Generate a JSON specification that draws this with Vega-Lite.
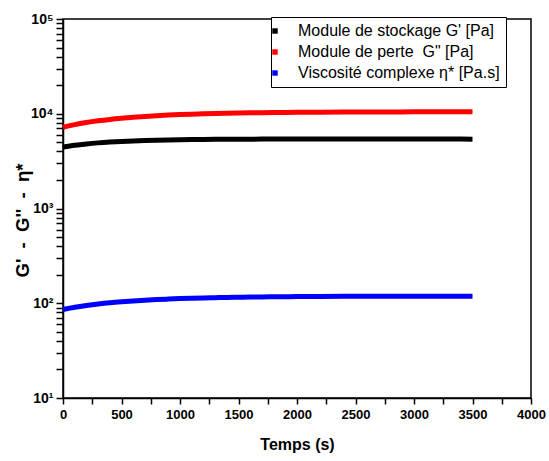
{
  "$schema": "https://vega.github.io/schema/vega-lite/v6.json",
  "autosize": {"type": "none"},
  "width": 468,
  "height": 379,
  "padding": {"left": 63, "top": 19, "right": 18, "bottom": 63},
  "background": "white",
  "config": {
    "view": {"stroke": "black", "strokeWidth": 1.5},
    "font": "Liberation Sans",
    "axis": {"grid": false, "domainColor": "black", "domainWidth": 1.5, "tickColor": "black", "tickWidth": 1.5, "labelColor": "black", "titleColor": "black", "labelFont": "Liberation Sans", "titleFont": "Liberation Sans", "labelFontWeight": "bold", "titleFontWeight": "bold"}
  },
  "data": {"values": [
    {"t": 0, "s": "G1", "v": 4460}, {"t": 100, "s": "G1", "v": 4651}, {"t": 200, "s": "G1", "v": 4804}, {"t": 300, "s": "G1", "v": 4927}, {"t": 400, "s": "G1", "v": 5025}, {"t": 500, "s": "G1", "v": 5104}, {"t": 600, "s": "G1", "v": 5167}, {"t": 700, "s": "G1", "v": 5217}, {"t": 800, "s": "G1", "v": 5258}, {"t": 900, "s": "G1", "v": 5290}, {"t": 1000, "s": "G1", "v": 5316}, {"t": 1100, "s": "G1", "v": 5337}, {"t": 1200, "s": "G1", "v": 5353}, {"t": 1300, "s": "G1", "v": 5367}, {"t": 1400, "s": "G1", "v": 5377}, {"t": 1500, "s": "G1", "v": 5386}, {"t": 1600, "s": "G1", "v": 5393}, {"t": 1700, "s": "G1", "v": 5398}, {"t": 1800, "s": "G1", "v": 5402}, {"t": 1900, "s": "G1", "v": 5406}, {"t": 2000, "s": "G1", "v": 5409}, {"t": 2200, "s": "G1", "v": 5413}, {"t": 2400, "s": "G1", "v": 5415}, {"t": 2600, "s": "G1", "v": 5412}, {"t": 2800, "s": "G1", "v": 5408}, {"t": 3000, "s": "G1", "v": 5404}, {"t": 3200, "s": "G1", "v": 5400}, {"t": 3400, "s": "G1", "v": 5398}, {"t": 3500, "s": "G1", "v": 5397},
    {"t": 0, "s": "G2", "v": 7200}, {"t": 100, "s": "G2", "v": 7671}, {"t": 200, "s": "G2", "v": 8074}, {"t": 300, "s": "G2", "v": 8420}, {"t": 400, "s": "G2", "v": 8717}, {"t": 500, "s": "G2", "v": 8971}, {"t": 600, "s": "G2", "v": 9189}, {"t": 700, "s": "G2", "v": 9376}, {"t": 800, "s": "G2", "v": 9536}, {"t": 900, "s": "G2", "v": 9674}, {"t": 1000, "s": "G2", "v": 9792}, {"t": 1100, "s": "G2", "v": 9893}, {"t": 1200, "s": "G2", "v": 9979}, {"t": 1300, "s": "G2", "v": 10053}, {"t": 1400, "s": "G2", "v": 10117}, {"t": 1500, "s": "G2", "v": 10172}, {"t": 1600, "s": "G2", "v": 10219}, {"t": 1700, "s": "G2", "v": 10259}, {"t": 1800, "s": "G2", "v": 10293}, {"t": 1900, "s": "G2", "v": 10323}, {"t": 2000, "s": "G2", "v": 10348}, {"t": 2200, "s": "G2", "v": 10388}, {"t": 2400, "s": "G2", "v": 10418}, {"t": 2600, "s": "G2", "v": 10440}, {"t": 2800, "s": "G2", "v": 10456}, {"t": 3000, "s": "G2", "v": 10467}, {"t": 3200, "s": "G2", "v": 10476}, {"t": 3400, "s": "G2", "v": 10482}, {"t": 3500, "s": "G2", "v": 10484},
    {"t": 0, "s": "Eta", "v": 86}, {"t": 100, "s": "Eta", "v": 90.7}, {"t": 200, "s": "Eta", "v": 94.7}, {"t": 300, "s": "Eta", "v": 98.2}, {"t": 400, "s": "Eta", "v": 101.2}, {"t": 500, "s": "Eta", "v": 103.7}, {"t": 600, "s": "Eta", "v": 105.9}, {"t": 700, "s": "Eta", "v": 107.8}, {"t": 800, "s": "Eta", "v": 109.4}, {"t": 900, "s": "Eta", "v": 110.7}, {"t": 1000, "s": "Eta", "v": 111.9}, {"t": 1100, "s": "Eta", "v": 112.9}, {"t": 1200, "s": "Eta", "v": 113.8}, {"t": 1300, "s": "Eta", "v": 114.5}, {"t": 1400, "s": "Eta", "v": 115.2}, {"t": 1500, "s": "Eta", "v": 115.7}, {"t": 1600, "s": "Eta", "v": 116.2}, {"t": 1700, "s": "Eta", "v": 116.6}, {"t": 1800, "s": "Eta", "v": 116.9}, {"t": 1900, "s": "Eta", "v": 117.2}, {"t": 2000, "s": "Eta", "v": 117.5}, {"t": 2200, "s": "Eta", "v": 117.9}, {"t": 2400, "s": "Eta", "v": 118.2}, {"t": 2600, "s": "Eta", "v": 118.4}, {"t": 2800, "s": "Eta", "v": 118.6}, {"t": 3000, "s": "Eta", "v": 118.7}, {"t": 3200, "s": "Eta", "v": 118.8}, {"t": 3400, "s": "Eta", "v": 118.8}, {"t": 3500, "s": "Eta", "v": 118.8}
  ]},
  "mark": {"type": "line", "strokeWidth": 5, "interpolate": "monotone"},
  "encoding": {
    "x": {"field": "t", "type": "quantitative", "scale": {"domain": [0, 4000], "nice": false},
      "axis": {"title": "Temps (s)", "values": [0, 250, 500, 750, 1000, 1250, 1500, 1750, 2000, 2250, 2500, 2750, 3000, 3250, 3500, 3750, 4000],
        "labelExpr": "datum.value % 500 == 0 ? format(datum.value, 'd') : ''",
        "labelFontSize": 13, "titleFontSize": 16, "tickSize": 6, "labelPadding": 4, "titlePadding": 15, "labelFlush": false,
        "encode": {"ticks": {"update": {"y2": {"signal": "datum.value % 500 == 0 ? 6 : 3"}}}}}},
    "y": {"field": "v", "type": "quantitative", "scale": {"type": "log", "domain": [10, 100000], "nice": false},
      "axis": {"title": "G'\u00a0\u00a0-\u00a0\u00a0G''\u00a0\u00a0-\u00a0\u00a0η*", "values": [10, 20, 30, 40, 50, 60, 70, 80, 90, 100, 200, 300, 400, 500, 600, 700, 800, 900, 1000, 2000, 3000, 4000, 5000, 6000, 7000, 8000, 9000, 10000, 20000, 30000, 40000, 50000, 60000, 70000, 80000, 90000, 100000],
        "labelExpr": "datum.value == 10 ? '10¹' : datum.value == 100 ? '10²' : datum.value == 1000 ? '10³' : datum.value == 10000 ? '10⁴' : datum.value == 100000 ? '10⁵' : ''",
        "labelFontSize": 14, "titleFontSize": 18.5, "tickSize": 7, "labelPadding": 3,
        "titleX": -41, "titleY": 201, "titleAngle": 270, "titleBaseline": "middle", "titleAlign": "center",
        "encode": {"ticks": {"update": {"x2": {"signal": "abs(log(datum.value)/LN10 - round(log(datum.value)/LN10)) < 0.001 ? -7 : -4"}}}}}},
    "color": {"field": "s", "type": "nominal",
      "scale": {"domain": ["G1", "G2", "Eta"], "range": ["#000000", "#ff0000", "#0000ff"]},
      "legend": {"title": null, "orient": "none", "legendX": 208, "legendY": -2, "direction": "vertical",
        "labelExpr": "datum.value == 'G1' ? \"Module de stockage G' [Pa]\" : datum.value == 'G2' ? 'Module de perte\u00a0\u00a0G\" [Pa]' : 'Viscosité complexe η* [Pa.s]'",
        "strokeColor": "black", "padding": 6, "fillColor": "white",
        "symbolType": "square", "symbolSize": 6, "symbolStrokeWidth": 3, "symbolOffset": -10, "labelFontSize": 16, "labelFont": "Liberation Sans", "labelColor": "black", "labelOffset": 15, "rowPadding": 5, "labelLimit": 400}}
  }
}
